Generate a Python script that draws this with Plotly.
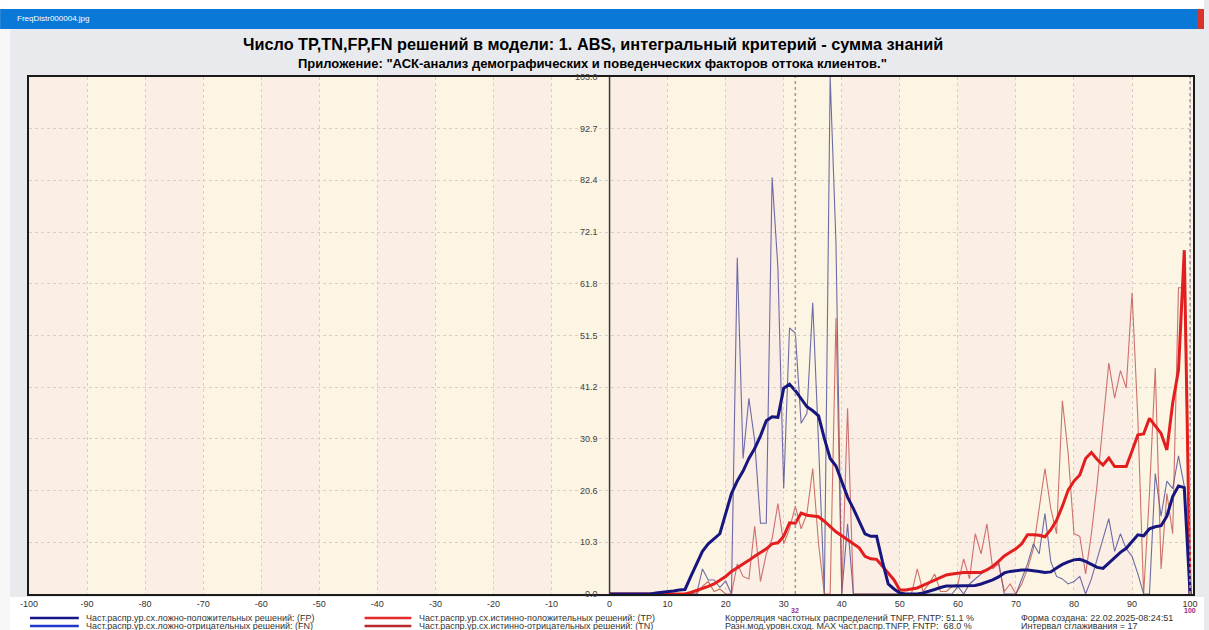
import plotly.graph_objects as go

# ---- data -------------------------------------------------------------
x_vals = list(range(0, 101))

# smoothed frequency distribution, false positives (thick navy)
fp_smooth = [
    0, 0, 0, 0, 0, 0, 0, 0, 0.2, 0.3,
    0.4, 0.6, 0.8, 0.9, 3.5, 6.0, 8.5, 10.0, 11.0, 12.0,
    16.0, 20.0, 22.5, 24.5, 27.0, 29.0, 31.5, 34.5, 35.3, 35.2,
    41.0, 41.8, 40.5, 39.0, 37.3, 36.5, 35.5, 31.0, 27.0, 25.5,
    22.5, 19.3, 17.0, 14.5, 12.0, 11.5, 11.5, 6.5, 2.0, 1.0,
    0.2, 0, 0, 0, 0.2, 0.5, 0.9, 1.3, 1.6, 1.6,
    1.6, 1.6, 1.6, 1.7, 2.0, 2.4, 2.8, 3.4, 4.2, 4.5,
    4.7, 4.8, 4.8, 4.7, 4.5, 4.3, 4.4, 5.2, 5.9, 6.4,
    6.8, 6.9, 6.5, 5.9, 5.3, 5.1, 6.2, 7.2, 8.3, 9.1,
    10.4, 11.8, 11.6, 13.0, 13.4, 13.6, 15.5, 19.4, 21.5, 21.2,
    0,
]

# raw frequency distribution, false negatives (thin blue)
fn_raw = [
    0, 0, 0, 0, 0, 0, 0, 0, 0, 0,
    0, 0, 0, 0, 0, 0, 5.0, 2.8, 2.8, 1.3,
    2.6, 0, 67.0, 27.0, 39.0, 30.5, 14.1, 14.1, 83.0, 65.0,
    21.0, 53.0, 52.0, 34.0, 36.0, 58.0, 30.0, 0, 103.0, 70.0,
    0, 14.0, 0, 0, 0, 0, 0, 0, 0, 0,
    0, 0, 0, 0, 0, 0, 0, 0, 0, 0,
    1.5, 0, 2.0, 3.0, 4.0, 5.0, 5.5, 6.5, 0, 0,
    0, 3.0, 6.0, 10.0, 8.0, 16.0, 6.5, 3.5, 3.0, 2.0,
    2.5, 3.5, 0, 3.0, 7.0, 11.0, 15.0, 8.5, 12.0, 9.0,
    7.5, 4.0, 0, 0, 24.0, 15.5, 22.5, 21.0, 27.5, 21.5,
    0,
]

# smoothed frequency distribution, true positives (thick red)
tp_smooth = [
    0, 0, 0, 0, 0, 0, 0, 0, 0, 0,
    0, 0, 0, 0, 0.3, 0.7, 1.0, 1.5, 2.0, 2.7,
    3.5, 4.5, 5.2, 6.0, 6.7, 7.5, 8.2, 9.0, 10.0, 10.2,
    11.5, 14.2, 14.1, 16.1, 15.7, 15.6, 15.4, 14.5, 13.5, 12.4,
    11.6, 10.8, 10.0, 9.2, 7.5, 7.0, 6.9, 5.5, 4.0, 2.8,
    0.8, 0.8, 1.0, 1.2, 1.7, 2.2, 2.8, 3.3, 3.8, 4.0,
    4.2, 4.3, 4.3, 4.3, 4.3, 4.8, 5.5, 6.5, 7.6, 8.3,
    9.0, 10.0, 11.8, 11.8, 11.7, 11.4, 12.8, 14.7, 17.5, 20.7,
    22.5, 23.7, 27.0, 28.2, 26.8, 25.7, 27.1, 25.4, 25.4, 25.4,
    28.5, 31.7, 31.9, 35.0, 33.5, 32.0, 28.7, 38.0, 44.6, 68.5,
    0,
]

# raw frequency distribution, true negatives (thin red)
tn_raw = [
    0, 0, 0, 0, 0, 0, 0, 0, 0, 0,
    0, 0, 0, 0, 0, 0, 1.5, 2.5, 0.5, 1.0,
    0, 0, 6.0, 3.5, 3.0, 13.5, 2.5, 8.0, 11.0, 18.0,
    10.0, 13.0, 17.5, 13.0, 16.0, 25.0, 10.0, 0, 0, 55.0,
    0, 37.0, 0, 0, 0, 0, 0, 0, 0, 0,
    0, 0, 0, 5.0, 0.5, 2.0, 4.0, 0.5, 0.5, 1.5,
    2.0, 7.0, 3.0, 12.0, 8.0, 14.0, 5.0, 6.0, 0.5, 2.0,
    0, 2.0, 5.0, 9.0, 17.0, 25.0, 17.0, 12.0, 38.5, 28.0,
    12.0, 11.5, 4.0, 12.0, 22.0, 34.0, 46.0, 39.0, 44.5, 41.0,
    60.0, 35.0, 0, 20.0, 45.0, 5.0, 20.0, 12.0, 61.0, 61.0,
    0,
]

x_ticks = list(range(-100, 101, 10))
y_ticks = [0.0, 10.3, 20.6, 30.9, 41.2, 51.5, 61.8, 72.1, 82.4, 92.7, 103.0]
mode_marks = [32, 100]

legend_left = [
    ("Част.распр.ур.сх.ложно-положительных решений: (FP)", "#16168C"),
    ("Част.распр.ур.сх.ложно-отрицательных решений: (FN)", "#2436CC"),
]
legend_mid = [
    ("Част.распр.ур.сх.истинно-положительных решений: (TP)", "#E42A2A"),
    ("Част.распр.ур.сх.истинно-отрицательных решений: (TN)", "#B8282C"),
]
info_mid = [
    "Корреляция частотных распределений TNFP, FNTP: 51.1 %",
    "Разн.мод.уровн.сход. MAX част.распр.TNFP, FNTP:  68.0 %",
]
info_right = [
    "Форма создана: 22.02.2025-08:24:51",
    "Интервал сглаживания = 17",
]

title_text = "Число TP,TN,FP,FN решений в модели: 1. ABS, интегральный критерий - сумма знаний"
subtitle_text = "Приложение: \"АСК-анализ демографических и поведенческих факторов оттока клиентов.\""
window_caption = "FreqDistr000004.jpg"

# ---- geometry helpers (page pixels -> paper coordinates) ---------------
W, H = 1209, 630
ML, MR, MT, MB = 29, 11, 77, 36
PW, PH = W - ML - MR, H - MT - MB


def px(xp):
    return (xp - ML) / PW


def py(yp):
    return (H - MB - yp) / PH


SANS = "Liberation Sans, Arial, sans-serif"
SMALL = dict(family=SANS, size=9, color="#333333")

fig = go.Figure()

# thin raw curves first, thick smoothed curves on top
fig.add_trace(go.Scatter(x=x_vals, y=fn_raw, mode="lines",
                         line=dict(color="rgba(50,50,140,0.7)", width=1.1),
                         hoverinfo="skip"))
fig.add_trace(go.Scatter(x=x_vals, y=tn_raw, mode="lines",
                         line=dict(color="rgba(190,70,70,0.75)", width=1.1),
                         hoverinfo="skip"))
fig.add_trace(go.Scatter(x=x_vals, y=tp_smooth, mode="lines",
                         line=dict(color="#E31E1E", width=3),
                         hoverinfo="skip"))
fig.add_trace(go.Scatter(x=x_vals, y=fp_smooth, mode="lines",
                         line=dict(color="#16167E", width=3),
                         hoverinfo="skip"))

shapes = []
annotations = []

# alternating background bands, one per 10 units
for k, x0 in enumerate(range(-100, 100, 10)):
    shapes.append(dict(type="rect", xref="x", yref="y", x0=x0, x1=x0 + 10,
                       y0=0, y1=103, layer="below", line=dict(width=0),
                       fillcolor="#FBEEE5" if k % 2 == 0 else "#FCF5E3"))

# vertical axis through zero
shapes.append(dict(type="line", xref="x", yref="y", x0=0, x1=0, y0=0, y1=103,
                   line=dict(color="#3A3A3A", width=1.5), layer="above"))

# mode markers
for m in mode_marks:
    shapes.append(dict(type="line", xref="x", yref="y", x0=m, x1=m, y0=0, y1=103,
                       line=dict(color="#A898A8", width=1.6, dash="dot")))
    annotations.append(dict(x=m, y=py(610.5), xref="x", yref="paper", text=f"<b>{m}</b>",
                            showarrow=False, font=dict(family=SANS, size=7, color="#9A2A8E"),
                            xanchor="center", yanchor="middle"))

# y tick labels along the zero axis
for v in y_ticks:
    annotations.append(dict(x=0, y=v, xref="x", yref="y", text=f"{v:.1f}",
                            showarrow=False, xanchor="right", yanchor="middle", xshift=-10,
                            font=dict(family=SANS, size=9, color="#444444")))

# page decorations: window caption bar and white margins
shapes.append(dict(type="rect", xref="paper", yref="paper", x0=px(0), x1=px(W),
                   y0=py(9), y1=py(0), fillcolor="white", line=dict(width=0), layer="below"))
shapes.append(dict(type="rect", xref="paper", yref="paper", x0=px(0), x1=px(W),
                   y0=py(29), y1=py(9), fillcolor="#0A78D6", line=dict(width=0), layer="below"))
shapes.append(dict(type="rect", xref="paper", yref="paper", x0=px(1202), x1=px(W),
                   y0=py(29), y1=py(9), fillcolor="#D9342B", line=dict(width=0), layer="below"))
shapes.append(dict(type="rect", xref="paper", yref="paper", x0=px(0), x1=px(10),
                   y0=py(H), y1=py(29), fillcolor="#F7F7F7", line=dict(width=0), layer="below"))
shapes.append(dict(type="rect", xref="paper", yref="paper", x0=px(10), x1=px(W),
                   y0=py(H), y1=py(597), fillcolor="white", line=dict(width=0), layer="below"))

annotations.append(dict(x=px(15), y=py(19), xref="paper", yref="paper", text=window_caption,
                        showarrow=False, xanchor="left", yanchor="middle",
                        font=dict(family=SANS, size=8, color="white")))
annotations.append(dict(x=px(595), y=py(44), xref="paper", yref="paper", text=f"<b>{title_text}</b>",
                        showarrow=False, xanchor="center", yanchor="middle",
                        font=dict(family=SANS, size=16.3, color="black")))
annotations.append(dict(x=px(595), y=py(63), xref="paper", yref="paper", text=f"<b>{subtitle_text}</b>",
                        showarrow=False, xanchor="center", yanchor="middle",
                        font=dict(family=SANS, size=13, color="black")))

# legend block under the axis
rows_y = [618, 626]
for (label, color), yy in zip(legend_left, rows_y):
    shapes.append(dict(type="line", xref="paper", yref="paper", x0=px(30), x1=px(79),
                       y0=py(yy), y1=py(yy), line=dict(color=color, width=2.5)))
    annotations.append(dict(x=px(84), y=py(yy), xref="paper", yref="paper", text=label,
                            showarrow=False, xanchor="left", yanchor="middle", font=SMALL))
for (label, color), yy in zip(legend_mid, rows_y):
    shapes.append(dict(type="line", xref="paper", yref="paper", x0=px(366), x1=px(413),
                       y0=py(yy), y1=py(yy), line=dict(color=color, width=2.5)))
    annotations.append(dict(x=px(419), y=py(yy), xref="paper", yref="paper", text=label,
                            showarrow=False, xanchor="left", yanchor="middle", font=SMALL))
for label, yy in zip(info_mid, rows_y):
    annotations.append(dict(x=px(726), y=py(yy), xref="paper", yref="paper", text=label,
                            showarrow=False, xanchor="left", yanchor="middle", font=SMALL))
for label, yy in zip(info_right, rows_y):
    annotations.append(dict(x=px(1023), y=py(yy), xref="paper", yref="paper", text=label,
                            showarrow=False, xanchor="left", yanchor="middle", font=SMALL))

fig.update_layout(
    width=W, height=H,
    margin=dict(l=ML, r=MR, t=MT, b=MB, pad=0),
    paper_bgcolor="#E9EAED",
    plot_bgcolor="#FCF5E3",
    showlegend=False,
    shapes=shapes,
    annotations=annotations,
    xaxis=dict(range=[-100, 100.5], tickvals=x_ticks, ticktext=[str(t) for t in x_ticks],
               showgrid=True, gridcolor="#D8D0C6", griddash="dot", gridwidth=1,
               zeroline=False, showline=True, mirror=True, linecolor="#1A1A1A", linewidth=2,
               ticks="", tickfont=dict(family=SANS, size=9, color="#333333"),
               fixedrange=True),
    yaxis=dict(range=[0, 103], tickvals=y_ticks, showticklabels=False,
               showgrid=True, gridcolor="#D8D0C6", griddash="dot", gridwidth=1,
               zeroline=False, showline=True, mirror=True, linecolor="#1A1A1A", linewidth=2,
               ticks="", fixedrange=True),
)

fig.write_html("out.html")
